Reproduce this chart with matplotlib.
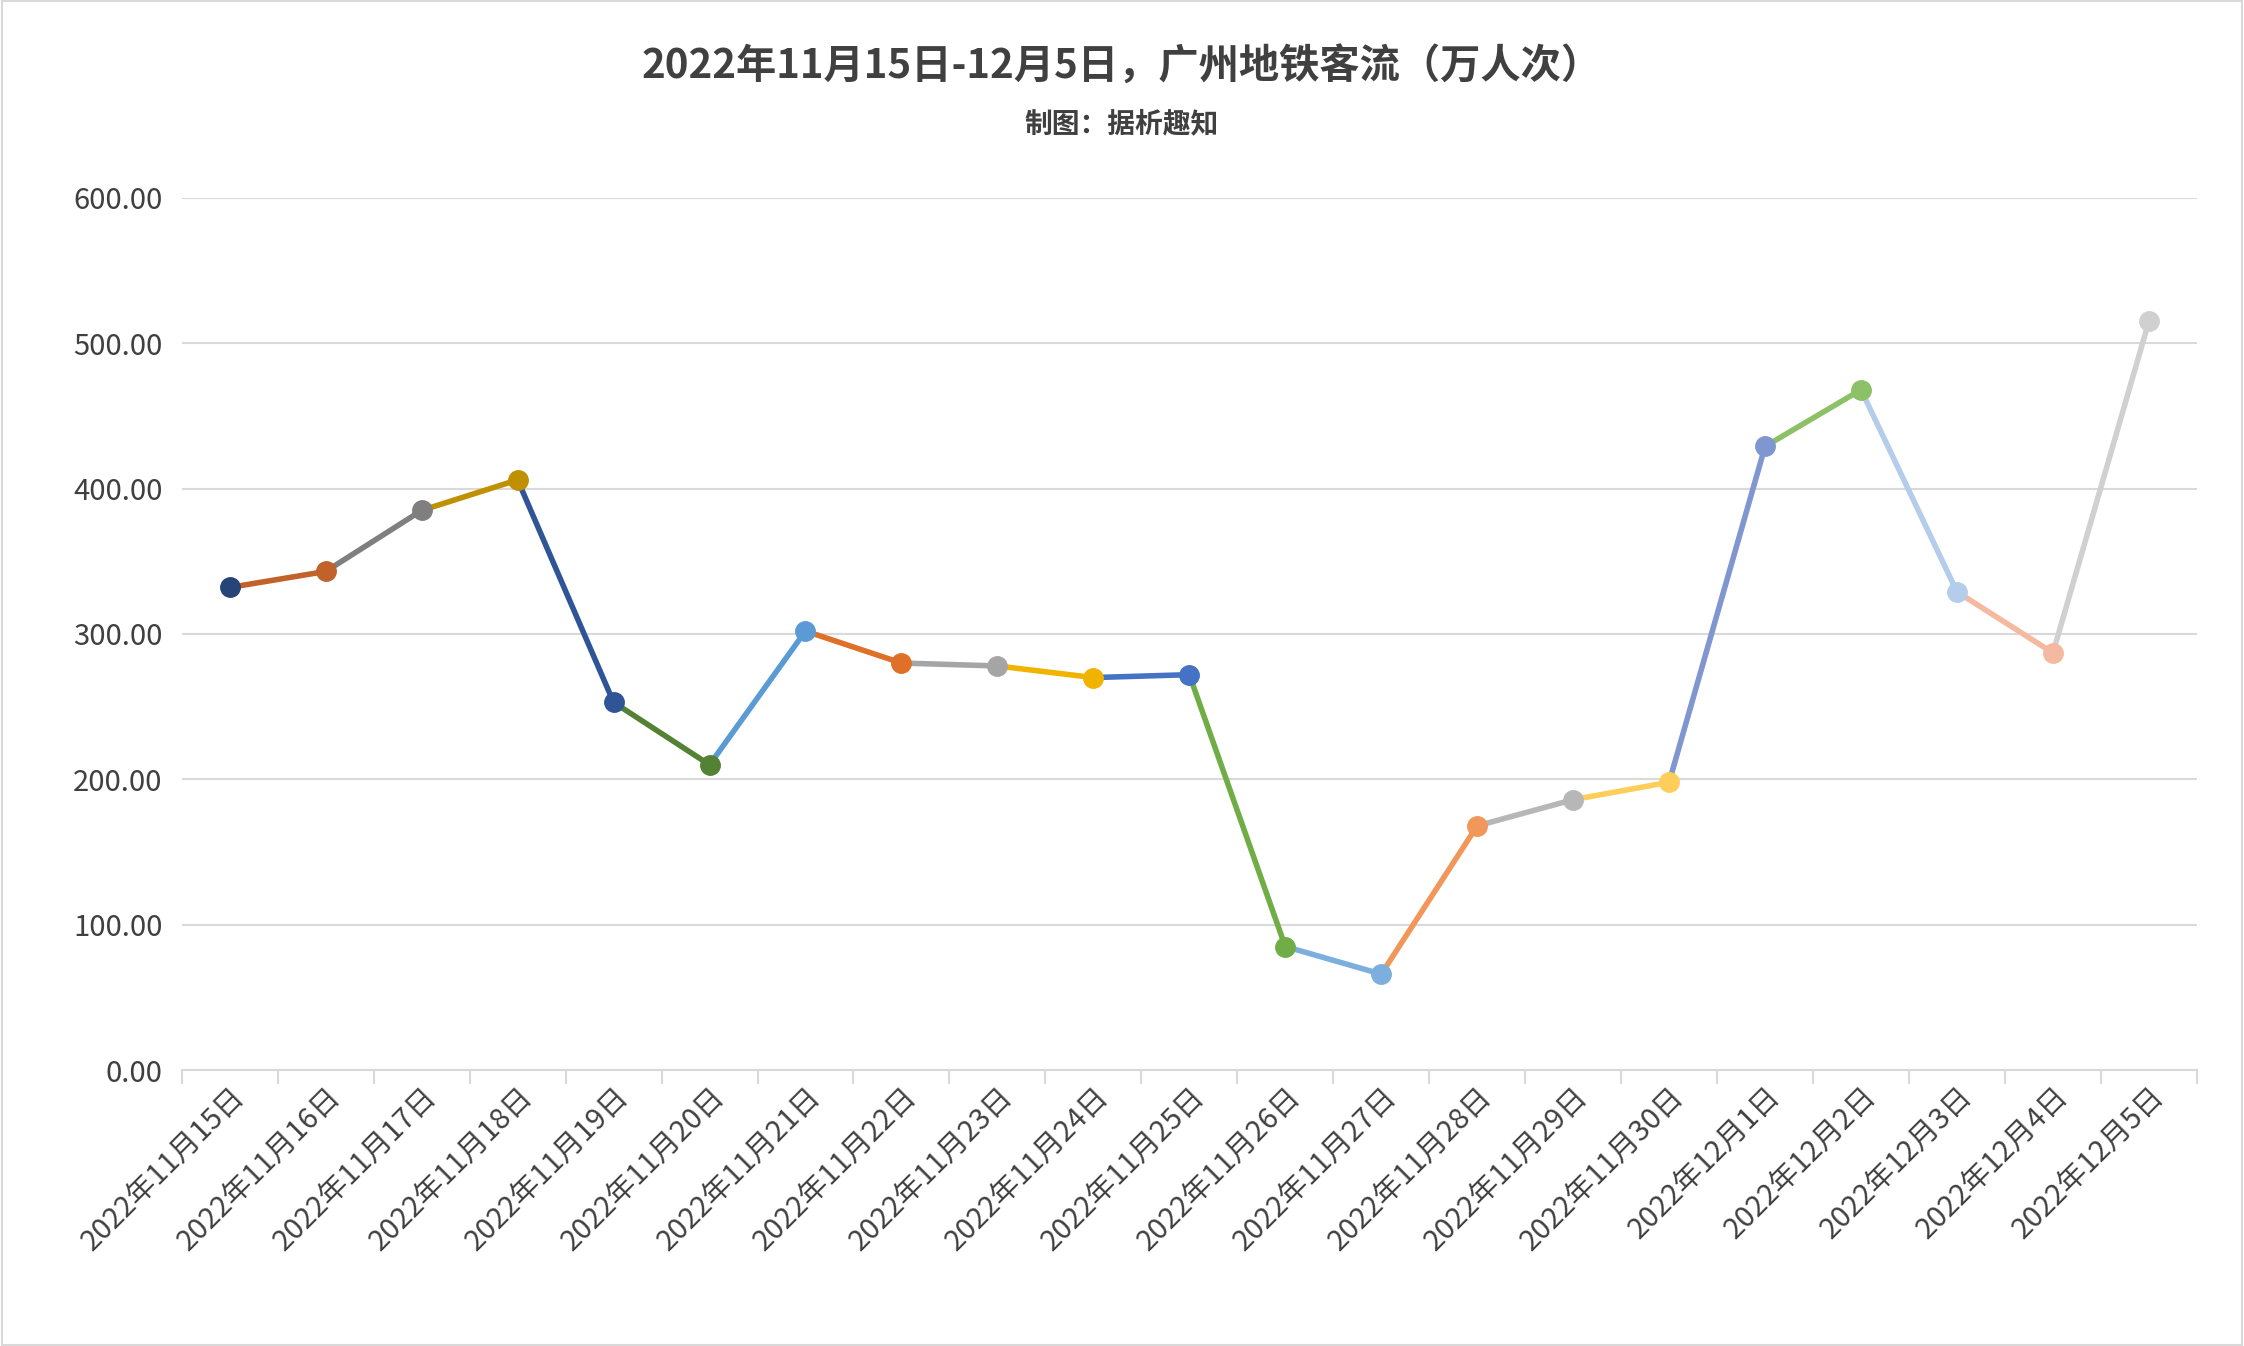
import matplotlib.pyplot as plt
from matplotlib.patches import Rectangle

plt.rcParams['font.family'] = ['Noto Sans CJK SC', 'DejaVu Sans']

dates = [f"2022年11月{d}日" for d in range(15, 31)] + [f"2022年12月{d}日" for d in range(1, 6)]
flow = [332, 343, 385, 406, 253, 210, 302, 280, 278, 270, 272,
        85, 66, 168, 186, 198, 429, 468, 329, 287, 515]
colors = ["#264478", "#C0622A", "#7F7F7F", "#BF9000", "#2F5597", "#548235",
          "#5B9BD5", "#E07028", "#A5A5A5", "#F0B400", "#4472C4", "#70AD47",
          "#7CAFDD", "#F1975A", "#B7B7B7", "#FFCD5A", "#7F96D0", "#8CC168",
          "#B4CDEA", "#F4B9A0", "#D0D0D0"]

fig = plt.figure(figsize=(22.44, 13.46), dpi=100)
ax = fig.add_axes([0.081, 0.205, 0.898, 0.648])
x = list(range(len(dates)))
for i in range(1, len(x)):
    ax.plot(x[i - 1:i + 1], flow[i - 1:i + 1], color=colors[i], lw=4, zorder=2)
for i in x:
    ax.plot(x[i], flow[i], "o", color=colors[i], ms=14, zorder=3)

ax.set_xlim(-0.5, len(x) - 0.5)
ax.set_ylim(0, 600)
ax.set_yticks(range(0, 601, 100))
ax.set_yticklabels([f"{v:.2f}" for v in range(0, 601, 100)], fontsize=21, color="#404040")
ax.yaxis.grid(True, color="#D9D9D9", lw=1.5)
ax.set_axisbelow(True)
ax.tick_params(axis="y", length=0, pad=14)
ax.set_xticks(x)
ax.set_xticklabels(dates, rotation=45, ha="right", rotation_mode="anchor",
                   fontsize=21, color="#404040")
ax.tick_params(axis="x", which="major", length=0, pad=8)
ax.set_xticks([i - 0.5 for i in range(len(x) + 1)], minor=True)
ax.tick_params(axis="x", which="minor", length=10, color="#D9D9D9", width=1.5)
for s in ["top", "right", "left"]:
    ax.spines[s].set_visible(False)
ax.spines["bottom"].set_color("#D9D9D9")
ax.spines["bottom"].set_linewidth(1.5)

fig.text(0.5, 0.95, "2022年11月15日-12月5日，广州地铁客流（万人次）", ha="center", va="center",
         fontsize=29, fontweight="bold", color="#404040")
fig.text(0.5, 0.908, "制图：据析趣知", ha="center", va="center",
         fontsize=20, fontweight="bold", color="#404040")
fig.patches.append(Rectangle((0.001, 0.001), 0.998, 0.998, transform=fig.transFigure,
                             fill=False, edgecolor="#D9D9D9", lw=1.5))
fig.savefig("out.png", dpi=100)
